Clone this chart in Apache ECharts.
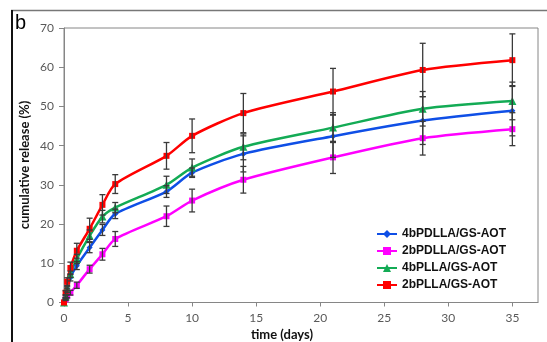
<!DOCTYPE html>
<html>
<head>
<meta charset="utf-8">
<script src="https://cdn.jsdelivr.net/npm/echarts@6/dist/echarts.min.js"></script>
<style>html,body{margin:0;padding:0;background:#fff;}#c{width:547px;height:342px;}</style>
</head>
<body>
<div id="c"></div>
<script>
var days = [0, 0.125, 0.25, 0.5, 1, 2, 3, 4, 8, 10, 14, 21, 28, 35];
var seriesNames = ['4bPDLLA/GS-AOT', '2bPDLLA/GS-AOT', '4bPLLA/GS-AOT', '2bPLLA/GS-AOT'];
var blueVals = [0, 1.0, 3.0, 6.3, 9.4, 14.0, 18.5, 22.6, 28.3, 33.1, 37.9, 42.4, 46.4, 48.9];
var magentaVals = [0, 0.8, 1.6, 2.5, 4.4, 8.5, 12.3, 16.2, 22.0, 26.0, 31.3, 37.0, 41.9, 44.2];
var greenVals = [0, 1.5, 3.5, 7.2, 11.1, 17.0, 21.9, 24.2, 30.0, 34.4, 39.7, 44.6, 49.4, 51.4];
var redVals = [0, 2.5, 5.3, 8.8, 13.2, 18.8, 24.9, 30.2, 37.4, 42.5, 48.3, 53.8, 59.3, 61.8];
var blueErr = [0, 0.3, 0.5, 0.8, 1.0, 1.3, 1.4, 1.2, 1.5, 1.2, 4.6, 5.4, 6.1, 6.4];
var magentaErr = [0, 0.3, 0.4, 0.6, 0.8, 1.0, 1.5, 1.9, 2.6, 2.9, 3.4, 4.1, 4.3, 4.2];
var greenErr = [0, 0.3, 0.5, 0.8, 1.2, 1.5, 1.6, 1.3, 2.2, 2.2, 3.3, 3.8, 4.4, 4.8];
var redErr = [0, 0.5, 1.0, 1.5, 1.9, 2.7, 2.6, 2.4, 3.4, 4.3, 5.0, 5.9, 6.8, 6.7];
var xTicks = [0, 5, 10, 15, 20, 25, 30, 35];

var colors = ['#0f4fe6', '#ff00ff', '#13ab55', '#ff0000'];
var symbols = ['diamond', 'rect', 'triangle', 'rect'];
var valsList = [blueVals, magentaVals, greenVals, redVals];
var errList = [blueErr, magentaErr, greenErr, redErr];

var series = [];
valsList.forEach(function (vals, i) {
  series.push({
    name: seriesNames[i], type: 'line', smooth: 0.25,
    data: days.map(function (d, j) { return [d, vals[j]]; }),
    symbol: symbols[i], symbolSize: i === 2 ? 8 : 6,
    showSymbol: true,
    lineStyle: { color: colors[i], width: 2.5 },
    itemStyle: { color: colors[i] },
    z: 2
  });
});
valsList.forEach(function (vals, i) {
  series.push({
    type: 'custom', z: 3, silent: true,
    data: days.map(function (d, j) { return [d, vals[j], errList[i][j]]; }),
    renderItem: function (params, api) {
      var x = api.value(0), y = api.value(1), e = api.value(2);
      if (!e) return null;
      var top = api.coord([x, y + e]);
      var bot = api.coord([x, y - e]);
      var hw = 3;
      var st = { stroke: '#3a3a3a', lineWidth: 1.3 };
      return { type: 'group', children: [
        { type: 'line', shape: { x1: top[0], y1: top[1], x2: bot[0], y2: bot[1] }, style: st },
        { type: 'line', shape: { x1: top[0] - hw, y1: top[1], x2: top[0] + hw, y2: top[1] }, style: st },
        { type: 'line', shape: { x1: bot[0] - hw, y1: bot[1], x2: bot[0] + hw, y2: bot[1] }, style: st }
      ]};
    }
  });
});

var chart = echarts.init(document.getElementById('c'), null, { renderer: 'canvas' });
chart.setOption({
  animation: false,
  backgroundColor: '#fff',
  grid: { left: 64, top: 28, right: 9, bottom: 39.5, show: true, borderColor: '#868686', borderWidth: 1, backgroundColor: 'transparent' },
  xAxis: {
    type: 'value', min: 0, max: 37, interval: 5,
    axisLine: { show: true, lineStyle: { color: '#868686', width: 1 } },
    axisTick: { show: true, length: 4, inside: false, customValues: xTicks, lineStyle: { color: '#868686' } },
    axisLabel: { customValues: xTicks, color: '#595959', fontSize: 12, fontFamily: 'Lato', margin: 10 },
    splitLine: { show: false }
  },
  yAxis: {
    type: 'value', min: 0, max: 70, interval: 10,
    axisLine: { show: true, lineStyle: { color: '#868686', width: 1 } },
    axisTick: { show: true, length: 5, inside: false, lineStyle: { color: '#868686' } },
    axisLabel: { color: '#595959', fontSize: 12, fontFamily: 'Lato', margin: 10 },
    splitLine: { show: false }
  },
  legend: {
    orient: 'vertical', left: 371, top: 223,
    data: seriesNames,
    itemWidth: 20, itemHeight: 10, itemGap: 5,
    textStyle: { fontFamily: 'Liberation Sans', fontWeight: 'bold', fontSize: 12, color: '#111' }
  },
  graphic: [
    { type: 'line', shape: { x1: 11, y1: 10.5, x2: 547, y2: 10.5 }, style: { stroke: '#777', lineWidth: 1.5 } },
    { type: 'line', shape: { x1: 12, y1: 10, x2: 12, y2: 342 }, style: { stroke: '#111', lineWidth: 2 } },
    { type: 'text', left: 15, top: 13, style: { text: 'b', font: '20px "Liberation Sans"', fill: '#000' } },
    { type: 'text', x: 25, y: 165, rotation: Math.PI / 2, style: { text: 'cumulative release (%)', font: 'bold 13px Lato', fill: '#111', align: 'center', verticalAlign: 'middle' } },
    { type: 'text', x: 282, y: 335, style: { text: 'time (days)', font: 'bold 13px Lato', fill: '#111', align: 'center', verticalAlign: 'middle' } }
  ],
  series: series
});
</script>
</body>
</html>
